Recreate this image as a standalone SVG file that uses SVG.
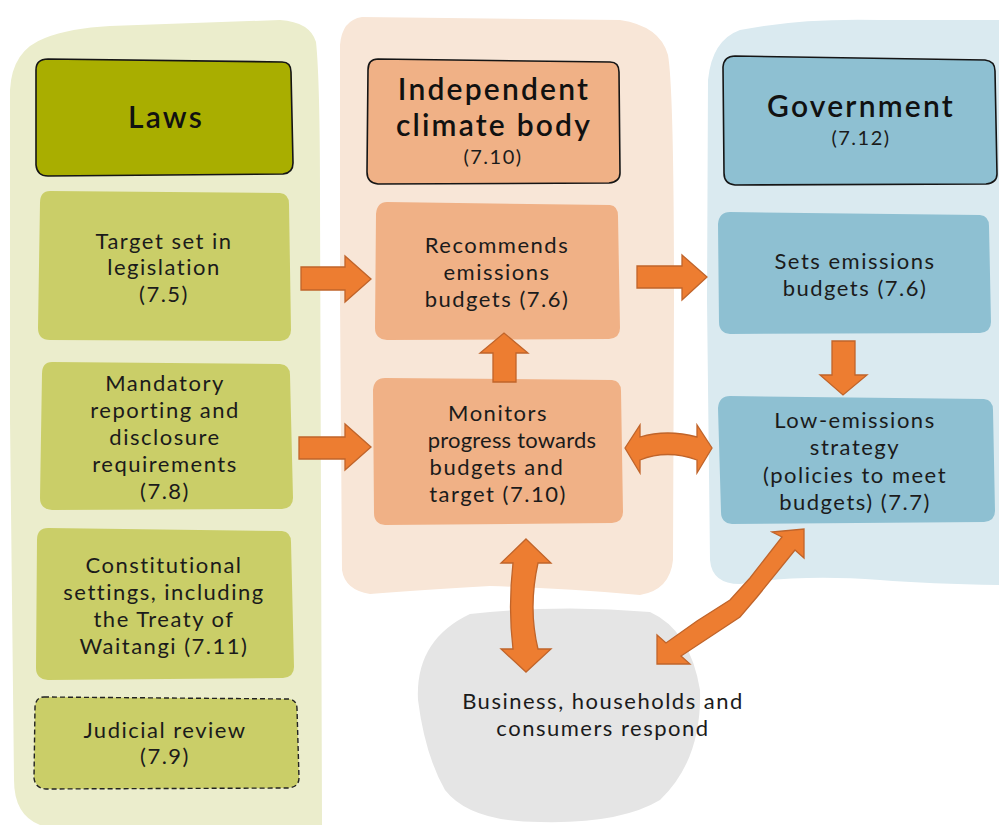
<svg xmlns="http://www.w3.org/2000/svg" width="999" height="825" viewBox="0 0 999 825">
<style>
.t{font-family:Lato,"Open Sans","Liberation Sans",sans-serif;font-size:22px;letter-spacing:1.5px;fill:#1b1b1b;text-anchor:middle}
.h{font-family:Lato,"Open Sans","Liberation Sans",sans-serif;font-size:30px;font-weight:600;letter-spacing:2.2px;fill:#111;text-anchor:middle}
.s{font-family:Lato,"Open Sans","Liberation Sans",sans-serif;font-size:20px;letter-spacing:1.5px;fill:#1b1b1b;text-anchor:middle}
.hd{stroke:#151515;stroke-width:1.6}
.green{fill:#CACE68}
.orange{fill:#F0B186}
.blue{fill:#8EC0D2}
.arr{fill:#ED7D31;stroke:#C0642A;stroke-width:1.3;stroke-linejoin:miter}
</style>
<rect width="999" height="825" fill="#ffffff"/>
<g id="backgrounds">
<path d="M 45,38 Q 70,28 110,26 L 280,20 Q 310,22 316,42 Q 320,80 320,200 L 322,825 L 40,825 Q 14,815 14,780 L 10,420 L 10,90 Q 12,50 45,38 Z" fill="#EBEDCC"/>
<path d="M 362,17 L 620,20 Q 660,26 668,55 Q 674,90 674,300 L 673,560 Q 670,590 640,595 Q 560,588 490,586 Q 420,590 370,594 Q 345,590 342,570 L 340,300 L 340,45 Q 342,20 362,17 Z" fill="#F8E6D7"/>
<path d="M 740,30 Q 800,18 880,20 L 999,20 L 999,585 Q 930,584 880,580 Q 800,574 740,584 Q 712,584 710,560 L 707,300 L 708,80 Q 712,40 740,30 Z" fill="#DAEAF0"/>
</g>
<g id="consumers">
<path d="M 470,614 Q 560,604 650,612 Q 690,630 700,690 Q 702,760 660,800 Q 620,824 540,822 Q 470,822 445,790 Q 425,755 418,700 Q 415,640 470,614 Z" fill="#E5E5E5"/>
<text class="t" x="603" y="709">Business, households and</text>
<text class="t" x="603" y="736">consumers respond</text>
</g>
<g id="laws">
<path class="hd" d="M 48,59 L 282,62 Q 291,62 291,72 L 293,163 Q 293,173 283,174 L 48,176 Q 37,176 36,165 L 36,70 Q 36,59 48,59 Z" fill="#A9AE00"/>
<text class="h" x="166" y="128">Laws</text>
</g>
<g id="target">
<path class="green" d="M 50,191 L 280,193 Q 289,194 289,204 L 291,330 Q 291,340 280,341 L 50,340 Q 38,340 38,328 L 40,203 Q 40,191 50,191 Z"/>
<text class="t" x="164" y="249">Target set in</text>
<text class="t" x="164" y="275">legislation</text>
<text class="t" x="164" y="302">(7.5)</text>
</g>
<g id="mandatory">
<path class="green" d="M 52,362 L 280,364 Q 290,365 290,375 L 293,498 Q 293,508 282,509 L 52,510 Q 40,509 40,498 L 42,374 Q 42,362 52,362 Z"/>
<text class="t" x="165" y="391">Mandatory</text>
<text class="t" x="165" y="418">reporting and</text>
<text class="t" x="165" y="445">disclosure</text>
<text class="t" x="165" y="472">requirements</text>
<text class="t" x="165" y="499">(7.8)</text>
</g>
<g id="constitutional">
<path class="green" d="M 48,528 L 282,531 Q 291,532 291,542 L 294,667 Q 294,677 283,678 L 48,680 Q 36,679 36,668 L 37,540 Q 37,528 48,528 Z"/>
<text class="t" x="164" y="573">Constitutional</text>
<text class="t" x="164" y="600">settings, including</text>
<text class="t" x="164" y="627">the Treaty of</text>
<text class="t" x="164" y="654">Waitangi (7.11)</text>
</g>
<g id="judicial">
<path class="green" d="M 44,697 L 289,699 Q 297,700 297,709 L 299,778 Q 299,787 288,788 L 46,789 Q 35,788 34,778 L 35,707 Q 36,697 44,697 Z" stroke="#222" stroke-width="1.4" stroke-dasharray="5,3"/>
<text class="t" x="165" y="738">Judicial review</text>
<text class="t" x="165" y="764">(7.9)</text>
</g>
<g id="climate-body">
<path class="hd" d="M 378,59 L 610,62 Q 619,62 619,72 L 620,173 Q 620,182 609,183 L 378,184 Q 367,183 367,172 L 368,70 Q 368,59 378,59 Z" fill="#F0B186"/>
<text class="h" x="494" y="100">Independent</text>
<text class="h" x="494" y="136">climate body</text>
<text class="s" x="493" y="164">(7.10)</text>
</g>
<g id="recommends">
<path class="orange" d="M 387,202 L 610,205 Q 618,206 618,216 L 620,328 Q 620,338 609,339 L 387,340 Q 375,339 375,328 L 376,214 Q 377,202 387,202 Z"/>
<text class="t" x="497" y="253">Recommends</text>
<text class="t" x="497" y="280">emissions</text>
<text class="t" x="497" y="307">budgets (7.6)</text>
</g>
<g id="monitors">
<path class="orange" d="M 385,378 L 612,380 Q 621,381 621,391 L 623,512 Q 623,522 612,523 L 385,525 Q 374,524 374,513 L 373,390 Q 374,378 385,378 Z"/>
<text class="t" x="498" y="421">Monitors</text>
<text class="t" x="512" y="448" style="letter-spacing:0.2px">progress towards</text>
<text class="t" x="497" y="475">budgets and</text>
<text class="t" x="498" y="502">target (7.10)</text>
</g>
<g id="government">
<path class="hd" d="M 735,56 L 985,60 Q 995,61 995,71 L 997,174 Q 997,183 986,184 L 735,185 Q 724,184 724,173 L 723,67 Q 724,56 735,56 Z" fill="#8EC0D2"/>
<text class="h" x="861" y="117">Government</text>
<text class="s" x="861" y="145">(7.12)</text>
</g>
<g id="sets-budgets">
<path class="blue" d="M 730,212 L 980,215 Q 989,216 989,226 L 991,322 Q 991,332 980,333 L 730,334 Q 719,333 719,322 L 718,224 Q 719,212 730,212 Z"/>
<text class="t" x="855" y="269">Sets emissions</text>
<text class="t" x="855" y="296">budgets (7.6)</text>
</g>
<g id="low-emissions">
<path class="blue" d="M 730,396 L 984,399 Q 993,400 993,410 L 995,511 Q 995,521 984,522 L 732,524 Q 721,523 721,512 L 718,408 Q 719,396 730,396 Z"/>
<text class="t" x="855" y="428">Low-emissions</text>
<text class="t" x="855" y="455">strategy</text>
<text class="t" x="855" y="483">(policies to meet</text>
<text class="t" x="855" y="510">budgets) (7.7)</text>
</g>
<g id="connectors">
<path class="arr" d="M 301,267 L 345,267 L 345,256 L 371,279 L 345,302 L 345,290 L 301,290 Z"/>
<path class="arr" d="M 299,437 L 345,437 L 345,424 L 371,447 L 345,470 L 345,459 L 299,459 Z"/>
<path class="arr" d="M 637,266 L 682,266 L 682,255 L 707,277 L 682,300 L 682,288 L 637,288 Z"/>
<path class="arr" d="M 493,382 L 493,353 L 480,353 L 504,333 L 528,353 L 516,353 L 516,382 Z"/>
<path class="arr" d="M 832,341 L 855,341 L 855,375 L 867,375 L 843,395 L 820,375 L 832,375 Z"/>
<path class="arr" d="M 625,448 L 640,425 L 640,437 Q 667,429 697,437 L 697,425 L 712,448 L 697,473 L 697,460 Q 667,449 640,460 L 640,473 Z"/>
<path class="arr" d="M 526,539 L 551,563 L 538,563 Q 528,608 538,649 L 551,649 L 526,672 L 501,649 L 513,649 Q 508,608 513,563 L 501,563 Z"/>
<path class="arr" d="M 657,664 L 657,635 L 666,643 L 697,621 L 730,600 L 750,578 L 782,537 L 772,532 L 804,529 L 804,558 L 795,550 L 757,597 L 740,617 L 681,656 L 690,664 Z"/>
</g>
</svg>
